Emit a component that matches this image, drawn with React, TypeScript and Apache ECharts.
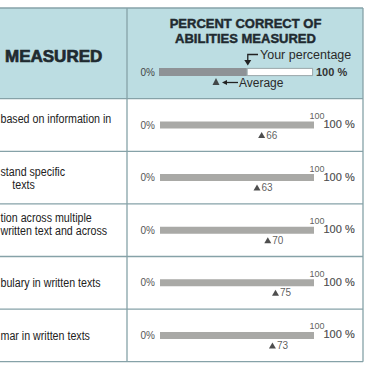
import React, { useEffect, useRef } from 'react';
import * as echarts from 'echarts';

// ---- data ----
const categories: string[] = [
  'based on information in\n\u00a0',
  'stand specific\n\u00a0\u00a0\u00a0\u00a0texts',
  'tion across multiple\nwritten text and across\n\u00a0',
  'bulary in written texts',
  'mar in written texts',
];
const averages: number[] = [66, 63, 70, 75, 73];
const fullScale: number[] = [100, 100, 100, 100, 100];
const legendYour: number[] = [57];
const legendRest: number[] = [43];
const legendAverage: number[] = [37];

// ---- layout ----
const W = 366;
const TABLE_R = 363;
const HEAD_TOP = 8;
const ROW_TOP = 98.7;
const ROW_H = 52.6;
const N = categories.length;
const COL_X = 127;
const BAR_L = 160;
const BAR_W = 154;
const LEG_TOP = 68;
const LEG_H = 8;

const SANS = "'Liberation Sans', Arial, sans-serif";
const LINE = '#86a2a8';
const DARK = '#1f2a30';

export default function App() {
  const ref = useRef<HTMLDivElement>(null);
  useEffect(() => {
    if (!ref.current) return;
    const chart = echarts.init(ref.current, undefined, { renderer: 'svg' });

    const graphics: any[] = [];
    graphics.push({ type: 'rect', shape: { x: 0, y: HEAD_TOP, width: TABLE_R, height: ROW_TOP - HEAD_TOP }, style: { fill: '#bcdde2' }, z: -10 });
    const ys = [HEAD_TOP];
    for (let i = 0; i <= N; i++) ys.push(ROW_TOP + i * ROW_H);
    ys.forEach((y) => graphics.push({ type: 'line', shape: { x1: 0, y1: y, x2: TABLE_R, y2: y }, style: { stroke: LINE, lineWidth: 1.3 }, z: -5 }));
    [COL_X, TABLE_R].forEach((x) => graphics.push({ type: 'line', shape: { x1: x, y1: HEAD_TOP, x2: x, y2: ROW_TOP + N * ROW_H }, style: { stroke: LINE, lineWidth: 1.3 }, z: -5 }));

    // left column texts (condensed by horizontal scale)
    categories.forEach((c, i) => {
      graphics.push({
        type: 'text', x: 0.5, y: ROW_TOP + (i + 0.5) * ROW_H, scaleX: 0.79,
        style: { text: c, font: `13.5px ${SANS}`, fill: '#222', textVerticalAlign: 'middle', lineHeight: 13 },
      });
    });

    graphics.push({ type: 'text', x: 5, y: 56.5, style: { text: 'MEASURED', font: `bold 17px ${SANS}`, fill: DARK, textVerticalAlign: 'middle', stroke: DARK, lineWidth: 0.7 } });
    graphics.push({ type: 'text', x: 245.5, y: 23.5, style: { text: 'PERCENT CORRECT OF', font: `bold 13px ${SANS}`, fill: DARK, textAlign: 'center', textVerticalAlign: 'middle', stroke: DARK, lineWidth: 0.45 } });
    graphics.push({ type: 'text', x: 245.5, y: 38, style: { text: 'ABILITIES MEASURED', font: `bold 13px ${SANS}`, fill: DARK, textAlign: 'center', textVerticalAlign: 'middle', stroke: DARK, lineWidth: 0.45 } });

    const yourX = BAR_L + (legendYour[0] / 100) * BAR_W;
    const avgX = BAR_L + (legendAverage[0] / 100) * BAR_W;
    graphics.push({ type: 'polyline', shape: { points: [[258, 54.5], [yourX, 54.5], [yourX, 61]] }, style: { stroke: '#222', lineWidth: 1.3, fill: 'none' } });
    graphics.push({ type: 'polygon', shape: { points: [[yourX - 3.5, 60], [yourX + 3.5, 60], [yourX, 65.5]] }, style: { fill: '#222' } });
    graphics.push({ type: 'text', x: 260, y: 55, style: { text: 'Your percentage', font: `12.5px ${SANS}`, fill: '#2a2a2a', textVerticalAlign: 'middle' } });
    graphics.push({ type: 'line', shape: { x1: avgX + 8, y1: 82.5, x2: avgX + 21, y2: 82.5 }, style: { stroke: '#222', lineWidth: 1.3 } });
    graphics.push({ type: 'polygon', shape: { points: [[avgX + 5, 82.5], [avgX + 10, 80], [avgX + 10, 85]] }, style: { fill: '#222' } });
    graphics.push({ type: 'text', x: avgX + 22, y: 83, style: { text: 'Average', font: `12px ${SANS}`, fill: '#2a2a2a', textVerticalAlign: 'middle' } });

    chart.setOption({
      animation: false,
      graphic: { elements: graphics },
      grid: [
        { left: BAR_L, width: BAR_W, top: ROW_TOP, height: ROW_H * N },
        { left: BAR_L - 1, width: BAR_W, top: LEG_TOP, height: LEG_H },
      ],
      xAxis: [
        { type: 'value', min: 0, max: 100, show: false, gridIndex: 0 },
        { type: 'value', min: 0, max: 100, show: false, gridIndex: 1 },
      ],
      yAxis: [
        {
          type: 'category', data: categories, inverse: true, gridIndex: 0,
          axisLine: { show: false }, axisTick: { show: false }, splitLine: { show: false }, axisLabel: { show: false },
        },
        { type: 'category', data: ['legend'], gridIndex: 1, show: false },
      ],
      series: [
        {
          type: 'bar', data: fullScale, xAxisIndex: 0, yAxisIndex: 0, barWidth: 7,
          itemStyle: { color: '#a9a9a6' },
          label: { show: true, position: 'left', distance: 5, formatter: '0%', fontFamily: SANS, fontSize: 10, color: '#555' },
        },
        {
          type: 'scatter', data: fullScale.map((v, i) => [v, i]), xAxisIndex: 0, yAxisIndex: 0, symbolSize: 1,
          itemStyle: { color: 'transparent' },
          label: { show: true, position: 'top', distance: 4, offset: [3, 0], formatter: (p: any) => `${p.value[0]}`, fontFamily: SANS, fontSize: 9, color: '#333' },
        },
        {
          type: 'scatter', data: fullScale.map((v, i) => [v, i]), xAxisIndex: 0, yAxisIndex: 0, symbolSize: 1,
          itemStyle: { color: 'transparent' },
          label: { show: true, position: 'right', distance: 9, offset: [0, -1], formatter: (p: any) => `${p.value[0]} %`, fontFamily: SANS, fontSize: 11, color: '#222', textBorderColor: '#222', textBorderWidth: 0.2 },
        },
        {
          type: 'scatter', data: averages.map((v, i) => [v, i]), xAxisIndex: 0, yAxisIndex: 0,
          symbol: 'triangle', symbolSize: [7, 6], symbolOffset: [0, 10],
          itemStyle: { color: '#222' },
          label: { show: true, position: 'right', distance: 1, formatter: (p: any) => `${p.value[0]}`, fontFamily: SANS, fontSize: 10, color: '#333' },
        },
        {
          type: 'bar', data: legendYour, stack: 'leg', xAxisIndex: 1, yAxisIndex: 1, barWidth: LEG_H,
          itemStyle: { color: '#8e9296' },
          label: { show: true, position: 'left', distance: 4, formatter: '0%', fontFamily: SANS, fontSize: 10, color: '#444' },
        },
        {
          type: 'bar', data: legendRest, stack: 'leg', xAxisIndex: 1, yAxisIndex: 1, barWidth: LEG_H,
          itemStyle: { color: '#ffffff', borderColor: '#8a9598', borderWidth: 0.8 },
          label: { show: true, position: 'right', distance: 3, formatter: '100 %', fontFamily: SANS, fontSize: 11, fontWeight: 'bold', color: '#333' },
        },
        {
          type: 'scatter', data: legendAverage.map((v) => [v, 0]), xAxisIndex: 1, yAxisIndex: 1,
          symbol: 'triangle', symbolSize: [7, 7], symbolOffset: [0, 9.5],
          itemStyle: { color: '#222' },
        },
      ],
    });
    return () => chart.dispose();
  }, []);
  return <div ref={ref} style={{ width: W, height: W, position: 'absolute', left: 0, top: 0, background: '#fff' }} />;
}
